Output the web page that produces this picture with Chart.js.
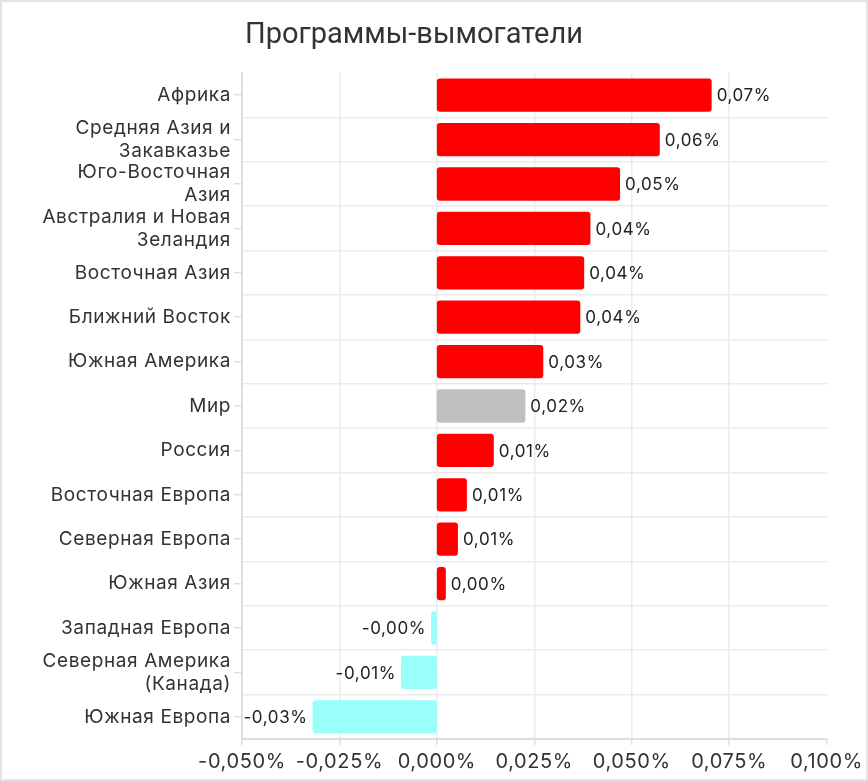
<!DOCTYPE html>
<html>
<head>
<meta charset="utf-8">
<script src="https://cdn.jsdelivr.net/npm/chart.js@4.4.1/dist/chart.umd.min.js"></script>
<style>
  html, body { margin: 0; padding: 0; background: #fff; }
  #wrap { width: 868px; height: 781px; position: relative; }
</style>
</head>
<body>
<div id="wrap"><canvas id="c"></canvas></div>
<script>
const TITLE = 'Программы-вымогатели';
const categories = [
  'Африка',
  ['Средняя Азия и', 'Закавказье'],
  ['Юго-Восточная', 'Азия'],
  ['Австралия и Новая', 'Зеландия'],
  'Восточная Азия',
  'Ближний Восток',
  'Южная Америка',
  'Мир',
  'Россия',
  'Восточная Европа',
  'Северная Европа',
  'Южная Азия',
  'Западная Европа',
  ['Северная Америка', '(Канада)'],
  'Южная Европа'
];
const values = [0.0705, 0.0572, 0.0470, 0.0394, 0.0378, 0.0368, 0.0273, 0.0227, 0.0146, 0.0077, 0.0054, 0.0023, -0.0015, -0.0092, -0.0319];
const xMin = -0.05, xMax = 0.1, xStep = 0.025;

const FONT = 'Inter, "Noto Sans", sans-serif';
const SPACING = '0.6px';
const fmt = (v, d) => v.toFixed(d).replace('.', ',') + '%';

const colorFor = (ctx) => {
  const i = ctx.dataIndex;
  const lab = categories[i];
  if (lab === 'Мир') return '#bfbfbf';
  return values[i] < 0 ? '#98fffa' : '#ff0000';
};

const extras = {
  id: 'extras',
  beforeLayout(chart) { chart.ctx.letterSpacing = SPACING; },
  beforeDraw(chart) {
    const c = chart.ctx;
    c.letterSpacing = SPACING;
    c.save();
    c.fillStyle = '#fff';
    c.fillRect(0, 0, chart.width, chart.height);
    c.strokeStyle = '#e3e3e3';
    c.lineWidth = 2;
    c.strokeRect(1, 1, chart.width - 2, chart.height - 2);
    c.restore();
  },
  afterDatasetsDraw(chart) {
    const c = chart.ctx;
    const meta = chart.getDatasetMeta(0);
    c.save();
    c.letterSpacing = SPACING;
    c.font = '17px ' + FONT;
    c.fillStyle = '#222';
    c.textBaseline = 'middle';
    meta.data.forEach((bar, i) => {
      const v = values[i];
      const t = fmt(v, 2);
      if (v >= 0) { c.textAlign = 'left'; c.fillText(t, bar.x + 5, bar.y + 1); }
      else { c.textAlign = 'right'; c.fillText(t, bar.x - 5, bar.y + 1); }
    });
    c.restore();
  },
  afterDraw(chart) {
    const c = chart.ctx;
    c.save();
    c.letterSpacing = '0px';
    c.font = '29px Roboto, ' + FONT;
    c.fillStyle = '#333';
    c.textAlign = 'center';
    c.textBaseline = 'middle';
    c.fillText(TITLE, 414, 36);
    c.restore();
  }
};

new Chart(document.getElementById('c'), {
  type: 'bar',
  data: {
    labels: categories,
    datasets: [{
      data: values,
      backgroundColor: colorFor,
      borderRadius: 3,
      borderSkipped: false,
      barPercentage: 0.75,
      categoryPercentage: 1.0,
      yAxisID: 'y'
    }]
  },
  options: {
    indexAxis: 'y',
    responsive: true,
    maintainAspectRatio: false,
    animation: false,
    layout: { padding: { top: 73, right: 39, left: 0, bottom: 0 } },
    plugins: { legend: { display: false }, tooltip: { enabled: false }, title: { display: false } },
    scales: {
      x: {
        min: xMin, max: xMax,
        ticks: {
          stepSize: xStep,
          callback: (v) => fmt(v, 3),
          font: { family: FONT, size: 20 },
          color: '#333',
          padding: 5,
          maxRotation: 0,
          autoSkip: false
        },
        grid: {
          color: (ctx) => (ctx.tick && Math.abs(ctx.tick.value - xMax) < 1e-9) ? 'rgba(0,0,0,0)' : '#ebebeb',
          lineWidth: 1.5,
          tickColor: '#dedede',
          tickLength: 6
        },
        border: { color: '#dedede', width: 2 },
        afterFit: (s) => { s.height = 42; }
      },
      y: {
        type: 'category',
        position: 'left',
        offset: true,
        ticks: {
          font: { family: FONT, size: 19, lineHeight: 1.2 },
          color: '#333',
          padding: 3,
          autoSkip: false
        },
        grid: { offset: false, drawOnChartArea: false, tickLength: 8, tickColor: '#dedede', lineWidth: 1.5 },
        border: { color: '#dedede', width: 2 },
        afterFit: (s) => { s.width = 242; }
      },
      y2: {
        type: 'category',
        labels: categories,
        position: 'right',
        offset: true,
        ticks: { display: false },
        grid: {
          offset: true,
          drawTicks: false,
          lineWidth: 1.5,
          color: (ctx) => ctx.index === 0 ? 'rgba(0,0,0,0)' : '#ebebeb'
        },
        border: { display: false },
        afterFit: (s) => { s.width = 0; }
      }
    }
  },
  plugins: [extras]
});
</script>
</body>
</html>
